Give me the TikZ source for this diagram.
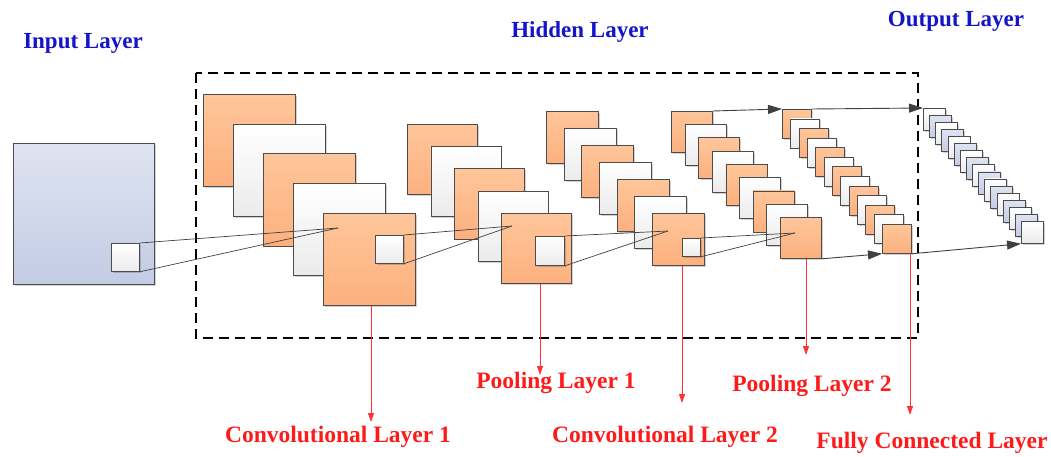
\documentclass[tikz,border=0pt]{standalone}
\usepackage{fontspec}
\setmainfont{Liberation Serif}
\usetikzlibrary{arrows.meta,shadows}
\definecolor{mapOrangeTop}{HTML}{FEC69A}
\definecolor{mapOrangeBot}{HTML}{FDB07E}
\definecolor{mapGreyBot}{HTML}{EBEBEB}
\definecolor{inBlueTop}{HTML}{DFE4F1}
\definecolor{inBlueBot}{HTML}{C3CCE5}
\definecolor{titleBlue}{HTML}{1414C8}
\definecolor{labelRed}{HTML}{FF1A1A}
\tikzset{
    fmap/.style = {draw=black!70, line width=0.8pt, rectangle, inner sep=0pt, anchor=north west, minimum size=#1,
        drop shadow={shadow xshift=1.5pt, shadow yshift=-1.5pt, fill=black, opacity=0.18}},
    orange-map/.style = {fmap=#1, top color=mapOrangeTop, bottom color=mapOrangeBot},
    white-map/.style = {fmap=#1, top color=white, bottom color=mapGreyBot},
    blue-map/.style = {fmap=#1, top color=inBlueTop, bottom color=inBlueBot},
    tone/.code = {\ifodd#1\relax\pgfkeysalso{top color=white, bottom color=mapGreyBot}\else\pgfkeysalso{top color=mapOrangeTop, bottom color=mapOrangeBot}\fi},
    out-tone/.code = {\ifodd#1\relax\pgfkeysalso{top color=inBlueTop, bottom color=inBlueBot}\else\pgfkeysalso{top color=white, bottom color=mapGreyBot}\fi},
    hidden-box/.style = {draw=black, line width=1.1pt, dash pattern=on 10pt off 6pt},
    link/.style = {draw=black!75, line width=0.7pt},
    flow/.style = {draw=black!75, line width=0.9pt, -{Triangle[length=14pt, width=9pt]}},
    pointer/.style = {draw=red!80, line width=0.8pt, -{Triangle[length=9pt, width=6pt]}},
    layer-title/.style = {text=titleBlue, font=\fontsize{23}{27}\selectfont\bfseries, inner sep=2pt},
    layer-label/.style = {text=labelRed, font=\fontsize{23.5}{28}\selectfont\bfseries, inner sep=2pt},
}
\begin{document}
\begin{tikzpicture}[x=1pt, y=-1pt]
\useasboundingbox (0,0) rectangle (1051,457);

% titles
\node[layer-title] (input-title) at (83,43) {Input Layer};
\node[layer-title] (hidden-title) at (580,32) {Hidden Layer};
\node[layer-title] (output-title) at (956,21) {Output Layer};

\draw[hidden-box] (196,73) rectangle (918,338);

% input
\node[blue-map=141pt] (input) at (13,143) {};
\node[white-map=28pt] (in-patch) at (111,243) {};

% conv / pooling stacks
\foreach \i in {0,...,4}
    \node[fmap=92pt, tone=\i] (conv1-\i) at ({203+30*\i},{94+29.75*\i}) {};
\node[white-map=28pt] (conv1-patch) at (375,235) {};

\foreach \i in {0,...,4}
    \node[fmap=70pt, tone=\i] (pool1-\i) at ({407+23.5*\i},{124+22.25*\i}) {};
\node[white-map=29pt] (pool1-patch) at (535,236) {};

\foreach \i in {0,...,6}
    \node[fmap=52pt, tone=\i] (conv2-\i) at ({546+17.67*\i},{111+17*\i}) {};
\node[white-map=18pt] (conv2-patch) at (682,238) {};

\foreach \i in {0,...,8}
    \node[fmap=41pt, tone=\i] (pool2-\i) at ({671+13.625*\i},{111+13.25*\i}) {};

\foreach \i in {0,...,12}
    \node[fmap=29pt, tone=\i] (fc-\i) at ({782+8.33*\i},{109+9.58*\i}) {};

% output
\foreach \i in {0,...,16}
    \node[fmap=22pt, out-tone=\i] (out-\i) at ({923+6.125*\i},{108+7.06*\i}) {};

% receptive fields
\coordinate (conv1-focus) at (338,228);
\coordinate (pool1-focus) at (512,226);
\coordinate (conv2-focus) at (668,231);
\coordinate (pool2-focus) at (795,233);
\draw[link] (in-patch.north east) -- (conv1-focus);
\draw[link] (in-patch.south east) -- (conv1-focus);
\draw[link] (conv1-patch.north east) -- (pool1-focus);
\draw[link] (conv1-patch.south east) -- (pool1-focus);
\draw[link] (pool1-patch.north east) -- (conv2-focus);
\draw[link] (pool1-patch.south east) -- (conv2-focus);
\draw[link] (conv2-patch.north east) -- (pool2-focus);
\draw[link] (conv2-patch.south east) -- (pool2-focus);

\draw[flow] (pool2-0.north east) -- (fc-0.north west);
\draw[flow] (fc-0.north east) -- (out-0.north west);
\draw[flow] (pool2-8.south east) -- (fc-12.south west);
\draw[flow] (fc-12.south east) -- (out-16.south west);

% layer names
\node[layer-label] (conv1-label) at (338,437) {Convolutional Layer 1};
\node[layer-label] (pool1-label) at (556,383) {Pooling Layer 1};
\node[layer-label] (conv2-label) at (665,437) {Convolutional Layer 2};
\node[layer-label] (pool2-label) at (812,386) {Pooling Layer 2};
\node[layer-label] (fc-label) at (932,443) {Fully Connected Layer};

\coordinate (conv1-tip) at (371,422);
\coordinate (pool1-tip) at (540,375);
\coordinate (conv2-tip) at (682,403);
\coordinate (pool2-tip) at (806,355);
\coordinate (fc-tip) at (910,415);
\draw[pointer] (conv1-4.south -| conv1-tip) -- (conv1-tip);
\draw[pointer] (pool1-4.south -| pool1-tip) -- (pool1-tip);
\draw[pointer] (conv2-6.south -| conv2-tip) -- (conv2-tip);
\draw[pointer] (pool2-8.south -| pool2-tip) -- (pool2-tip);
\draw[pointer] (fc-12.south -| fc-tip) -- (fc-tip);
\end{tikzpicture}
\end{document}
